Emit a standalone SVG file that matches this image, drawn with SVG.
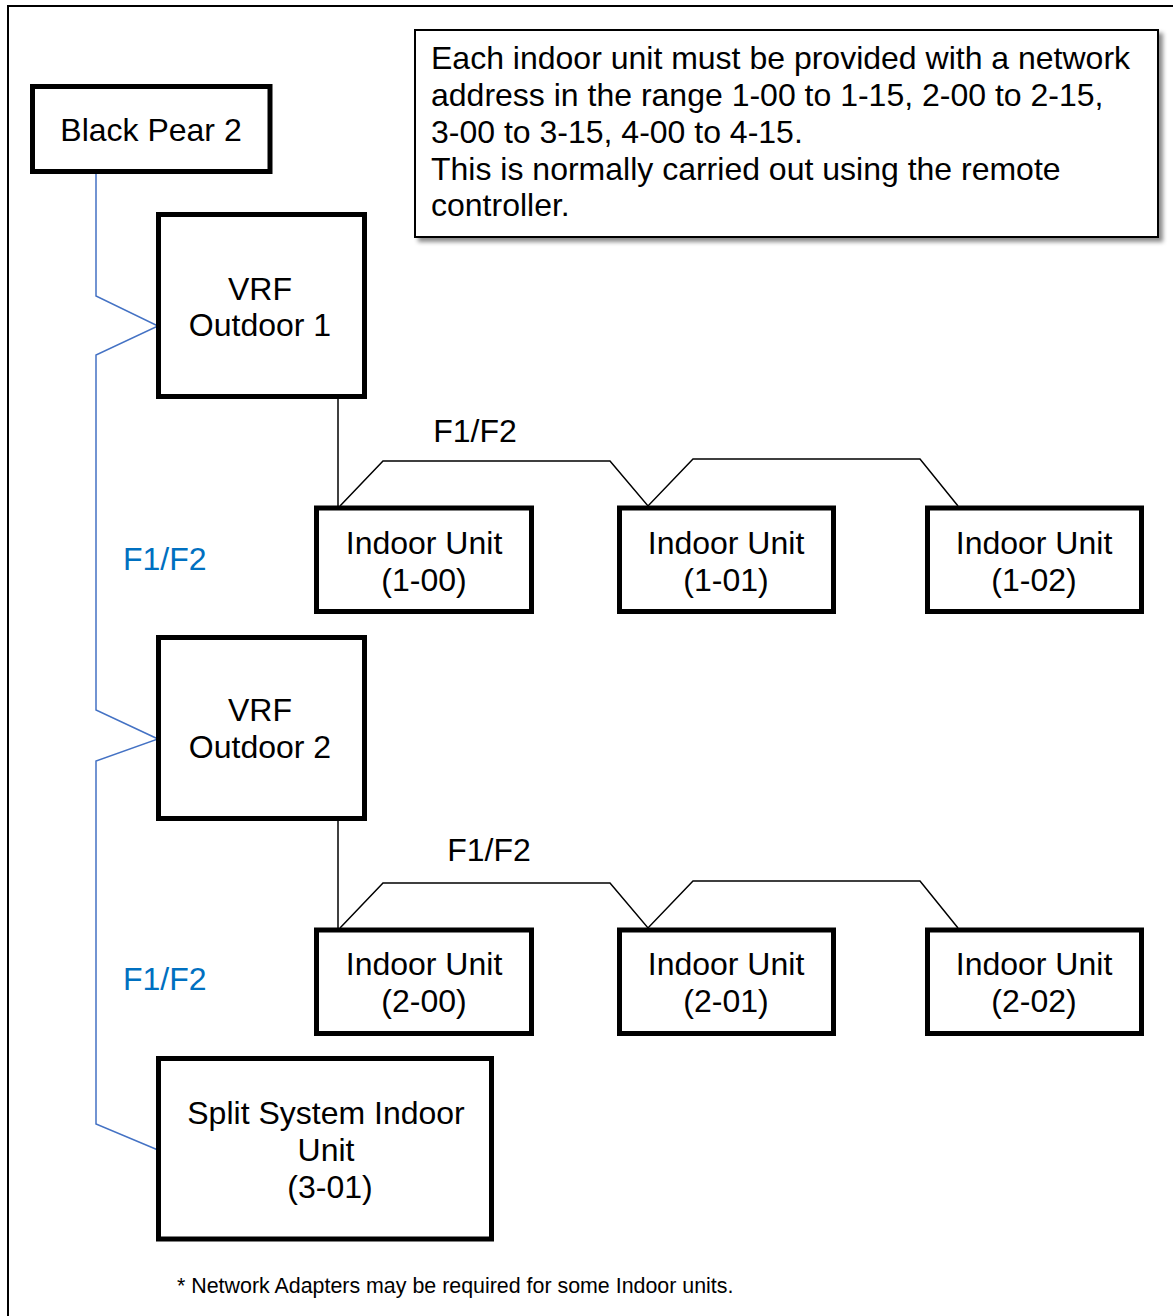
<svg xmlns="http://www.w3.org/2000/svg" width="1173" height="1316" viewBox="0 0 1173 1316">
<style>
text{font-family:"Liberation Sans",Arial,sans-serif;fill:#000}
.t30{font-size:32px}
.mid{text-anchor:middle}
.box{fill:#fff;stroke:#000;stroke-width:5}
.blue{fill:none;stroke:#4472C4;stroke-width:1.5}
.blk{fill:none;stroke:#000;stroke-width:1.5}
.bl{fill:#0070C0}
</style>
<defs>
<filter id="sh" x="-5%" y="-5%" width="115%" height="120%">
<feDropShadow dx="4" dy="4" stdDeviation="2" flood-color="#000" flood-opacity="0.45"/>
</filter>
</defs>
<rect x="0" y="0" width="1173" height="1316" fill="#fff"/>
<rect x="8" y="6" width="1200" height="1400" fill="none" stroke="#000" stroke-width="2"/>

<g id="connectors">
<polyline class="blue" points="96,172 96,296 158,326 96,355 96,710 158,739 96,761 96,1124 158,1150"/>
<line class="blk" x1="338" y1="398" x2="338" y2="506"/>
<polyline class="blk" points="340,506 383,461 610,461 648,506 693,459 920,459 958,506"/>
<line class="blk" x1="338" y1="820" x2="338" y2="928"/>
<polyline class="blk" points="340,928 383,883 610,883 648,928 693,881 920,881 958,928"/>
<text class="t30" x="475" y="442" text-anchor="middle">F1/F2</text>
<text class="t30" x="489" y="861" text-anchor="middle">F1/F2</text>
<text class="t30 bl" x="123" y="570">F1/F2</text>
<text class="t30 bl" x="123" y="990">F1/F2</text>
</g>

<g id="note">
<rect x="415" y="30" width="743" height="207" fill="#fff" stroke="#000" stroke-width="2" filter="url(#sh)"/>
<text class="t30" x="431" y="69">Each indoor unit must be provided with a network</text>
<text class="t30" x="431" y="106">address in the range 1-00 to 1-15, 2-00 to 2-15,</text>
<text class="t30" x="431" y="143">3-00 to 3-15, 4-00 to 4-15.</text>
<text class="t30" x="431" y="180">This is normally carried out using the remote</text>
<text class="t30" x="431" y="216">controller.</text>
</g>

<g id="black-pear-2">
<rect class="box" x="32.5" y="86.5" width="237.5" height="85"/>
<text class="t30 mid" x="151" y="141">Black Pear 2</text>
</g>

<g id="vrf-outdoor-1">
<rect class="box" x="158.5" y="214.5" width="206" height="182"/>
<text class="t30 mid" x="260" y="300">VRF</text>
<text class="t30 mid" x="260" y="336">Outdoor 1</text>
</g>

<g id="indoor-1-00">
<rect class="box" x="316.5" y="508" width="215" height="103.5"/>
<text class="t30 mid" x="424" y="554">Indoor Unit</text>
<text class="t30 mid" x="424" y="591">(1-00)</text>
</g>
<g id="indoor-1-01">
<rect class="box" x="619.5" y="508" width="214" height="103.5"/>
<text class="t30 mid" x="726" y="554">Indoor Unit</text>
<text class="t30 mid" x="726" y="591">(1-01)</text>
</g>
<g id="indoor-1-02">
<rect class="box" x="927.5" y="508" width="214" height="103.5"/>
<text class="t30 mid" x="1034" y="554">Indoor Unit</text>
<text class="t30 mid" x="1034" y="591">(1-02)</text>
</g>

<g id="vrf-outdoor-2">
<rect class="box" x="158.5" y="637.5" width="206" height="181"/>
<text class="t30 mid" x="260" y="721">VRF</text>
<text class="t30 mid" x="260" y="758">Outdoor 2</text>
</g>

<g id="indoor-2-00">
<rect class="box" x="316.5" y="930" width="215" height="103.5"/>
<text class="t30 mid" x="424" y="975">Indoor Unit</text>
<text class="t30 mid" x="424" y="1012">(2-00)</text>
</g>
<g id="indoor-2-01">
<rect class="box" x="619.5" y="930" width="214" height="103.5"/>
<text class="t30 mid" x="726" y="975">Indoor Unit</text>
<text class="t30 mid" x="726" y="1012">(2-01)</text>
</g>
<g id="indoor-2-02">
<rect class="box" x="927.5" y="930" width="214" height="103.5"/>
<text class="t30 mid" x="1034" y="975">Indoor Unit</text>
<text class="t30 mid" x="1034" y="1012">(2-02)</text>
</g>

<g id="split-3-01">
<rect class="box" x="158.5" y="1058.5" width="333" height="180.5"/>
<text class="t30 mid" x="326" y="1124">Split System Indoor</text>
<text class="t30 mid" x="326" y="1161">Unit</text>
<text class="t30 mid" x="330" y="1198">(3-01)</text>
</g>

<text x="177" y="1293" font-size="21.4">* Network Adapters may be required for some Indoor units.</text>
</svg>
